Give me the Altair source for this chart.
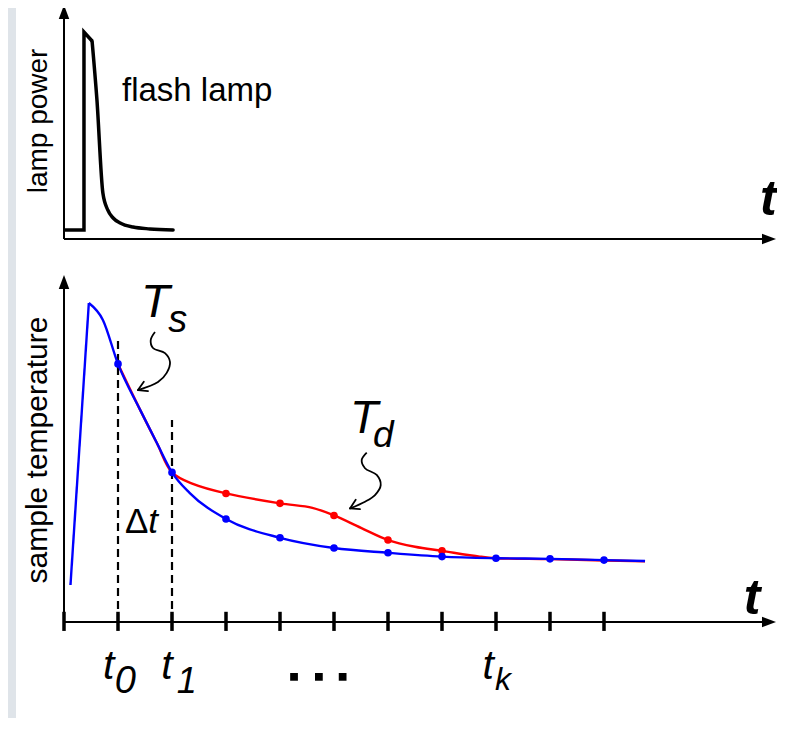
import altair as alt
import pandas as pd

FONT = "Liberation Sans, Arial, Helvetica, sans-serif"

# ---------------- data ----------------
# time u in sampling steps: ticks at u = 0..10, t0 at u=1, t1 at u=2, tk at u=8
tick_u = [0, 1, 2, 3, 4, 5, 6, 7, 8, 9, 10]
label_t_u = [0.72, 1.80, 7.75]
label_sub_u = [0.94, 2.09, 7.98]
label_sub = ["0", "1", "k"]
label_sub_size = [38, 36, 32]
label_sub_T = [-0.223, -0.223, -0.213]

# flash-lamp power (peak = 1)
lamp_step_u = [0.0, 0.37, 0.37, 0.52]
lamp_step_P = [0.044, 0.044, 1.005, 0.961]
lamp_decay_u = [0.52, 0.61, 0.72, 0.81, 0.91, 1.04, 1.28, 1.59, 2.02]
lamp_decay_P = [0.961, 0.675, 0.223, 0.141, 0.102, 0.078, 0.058, 0.049, 0.044]

# sample temperature (peak = 1)
ts_rise_u = [0.12, 0.46]
ts_rise_T = [0.116, 1.0]
ts_u = [0.46, 0.72, 1.0, 1.41, 1.72, 2.0, 2.33, 3.0, 4.0, 5.0, 6.0, 7.0, 8.0, 9.0, 10.0, 10.76]
ts_T = [1.0, 0.947, 0.809, 0.665, 0.561, 0.469, 0.404, 0.323, 0.264, 0.232, 0.217, 0.205, 0.200, 0.198, 0.194, 0.191]
td_u = [1.0, 1.41, 1.72, 2.0, 2.4, 3.0, 4.0, 4.6, 5.0, 5.5, 6.0, 6.5, 7.0, 7.7, 8.0, 9.0, 10.0, 10.76]
td_T = [0.809, 0.665, 0.561, 0.469, 0.432, 0.403, 0.372, 0.358, 0.334, 0.295, 0.257, 0.236, 0.223, 0.205, 0.200, 0.197, 0.193, 0.190]
ts_dot_u = [1, 2, 3, 4, 5, 6, 7, 8, 9, 10]
ts_dot_T = [0.809, 0.469, 0.323, 0.264, 0.232, 0.217, 0.205, 0.200, 0.198, 0.194]
td_dot_u = [3, 4, 5, 6, 7]
td_dot_T = [0.403, 0.372, 0.334, 0.257, 0.223]
dt_line_u = [1, 2]
dt_line_top = [0.884, 0.633]

# annotation arrows (squiggles) in data units
ts_arrow_u = [1.685, 1.606, 1.648, 1.870, 1.963, 1.902, 1.741, 1.370]
ts_arrow_T = [0.909, 0.884, 0.859, 0.843, 0.815, 0.781, 0.752, 0.727]
ts_head_u = [1.556, 1.478]
ts_head_T = [0.724, 0.753]
td_arrow_u = [5.606, 5.513, 5.574, 5.791, 5.865, 5.759, 5.574, 5.296]
td_arrow_T = [0.531, 0.508, 0.482, 0.461, 0.429, 0.398, 0.377, 0.356]
td_head_u = [5.481, 5.402]
td_head_T = [0.354, 0.383]
dots_u = [4.26, 4.72, 5.16]

# ---------------- layout ----------------
W, H = 769, 710
U0, DU = 56.0, 54.0      # chart px of u=0, px per step
TB0, DT = 614.0, 319.0   # bottom panel: chart px of T=0, px per unit
PT0, DP = 231.0, 206.0   # top panel: chart px of P=0, px per unit

xs = alt.Scale(domain=[-U0 / DU, (W - U0) / DU], nice=False, zero=False)
yb = alt.Scale(domain=[-(H - TB0) / DT, TB0 / DT], nice=False, zero=False)
yt = alt.Scale(domain=[-(H - PT0) / DP, PT0 / DP], nice=False, zero=False)


def X(f="u"):
    return alt.X(f"{f}:Q", scale=xs, axis=None)


def Y(ys, f="v"):
    return alt.Y(f"{f}:Q", scale=ys, axis=None)


def line(us, vs, ys, color="black", width=2.0, interp="linear", dash=None, cap="butt"):
    d = pd.DataFrame({"u": us, "v": vs, "i": list(range(len(us)))})
    kw = dict(color=color, strokeWidth=width, interpolate=interp, strokeCap=cap, strokeJoin="miter")
    if dash:
        kw["strokeDash"] = dash
    return alt.Chart(d).mark_line(**kw).encode(x=X(), y=Y(ys), order=alt.Order("i:Q"))


def rules(u1, u2, v1, v2, ys, width=2.0, dash=None, cap="butt"):
    d = pd.DataFrame({"u": u1, "u2": u2, "v": v1, "v2": v2})
    kw = dict(color="black", strokeWidth=width, strokeCap=cap)
    if dash:
        kw["strokeDash"] = dash
    return alt.Chart(d).mark_rule(**kw).encode(x=X(), x2="u2:Q", y=Y(ys), y2="v2:Q")


def dots(us, vs, ys, color):
    d = pd.DataFrame({"u": us, "v": vs})
    return alt.Chart(d).mark_circle(color=color, size=58, opacity=1).encode(x=X(), y=Y(ys))


ARROW = "M0,0L-0.75,2L0.75,2Z"


def arrows(us, vs, angs, ys):
    d = pd.DataFrame({"u": us, "v": vs, "a": angs})
    return alt.Chart(d).mark_point(shape=ARROW, filled=True, color="black", size=196,
                                   opacity=1, strokeWidth=0).encode(
        x=X(), y=Y(ys), angle=alt.Angle("a:Q", scale=None))


def text(u, v, txt, ys, size, italic=False, bold=False, align="left", angle=None):
    d = pd.DataFrame({"u": [u], "v": [v], "txt": [txt]})
    kw = dict(font=FONT, fontSize=size, align=align, baseline="alphabetic", color="black")
    if italic:
        kw["fontStyle"] = "italic"
    if bold:
        kw["fontWeight"] = "bold"
    if angle is not None:
        kw["angle"] = angle
    return alt.Chart(d).mark_text(**kw).encode(x=X(), y=Y(ys), text="txt:N")


# ---------------- background ----------------
bg = alt.Chart(pd.DataFrame({"a": [0]})).mark_rect(color="white").encode(
    x=alt.value(8), x2=alt.value(W), y=alt.value(0), y2=alt.value(H))

# ---------------- top panel ----------------
top = alt.layer(
    rules([0], [0], [0], [1.10], yt, width=2),
    rules([0], [13.0], [0], [0], yt, width=2),
    arrows([0, 13.185], [1.136, 0], [0, 90], yt),
    line(lamp_step_u, lamp_step_P, yt, width=3.5),
    line(lamp_decay_u, lamp_decay_P, yt, width=3.5, interp="monotone", cap="round"),
    text(1.074, 0.670, "flash lamp", yt, 33),
    text(-0.31, 0.573, "lamp power", yt, 28, align="center", angle=270),
    text(12.89, 0.117, "t", yt, 50, italic=True, bold=True),
)

# ---------------- bottom panel ----------------
tick_df = pd.DataFrame({"u": tick_u})
ticks = alt.Chart(tick_df).mark_rule(color="black", strokeWidth=3.5).encode(
    x=X(), y=alt.Y("a:Q", scale=yb, axis=None), y2="b:Q").transform_calculate(a="0.032", b="-0.028")

lab_t = alt.Chart(pd.DataFrame({"u": label_t_u, "v": [-0.179] * 3, "txt": ["t"] * 3})).mark_text(
    font=FONT, fontSize=41, fontStyle="italic", align="left", baseline="alphabetic", color="black").encode(
    x=X(), y=Y(yb), text="txt:N")
lab_sub = alt.Chart(pd.DataFrame({"u": label_sub_u, "v": label_sub_T, "txt": label_sub,
                                  "s": label_sub_size})).mark_text(
    font=FONT, fontStyle="italic", align="left", baseline="alphabetic", color="black").encode(
    x=X(), y=Y(yb), text="txt:N", size=alt.Size("s:Q", scale=None, legend=None))
ell = alt.Chart(pd.DataFrame({"u": dots_u, "v": [-0.172] * 3})).mark_square(
    color="black", size=60, opacity=1).encode(x=X(), y=Y(yb))

bottom = alt.layer(
    rules([0], [0], [0], [1.06], yb, width=2),
    rules([0], [13.0], [0], [0], yb, width=2),
    arrows([0, 13.185], [1.088, 0], [0, 90], yb),
    ticks,
    rules(dt_line_u, dt_line_u, [0, 0], dt_line_top, yb, width=2.2, dash=[8, 5]),
    line(td_u, td_T, yb, color="#ff0000", width=2.4, interp="catmull-rom"),
    line(ts_rise_u, ts_rise_T, yb, color="#0000ff", width=2.4),
    line(ts_u, ts_T, yb, color="#0000ff", width=2.4, interp="monotone"),
    dots(td_dot_u, td_dot_T, yb, "#ff0000"),
    dots(ts_dot_u, ts_dot_T, yb, "#0000ff"),
    line(ts_arrow_u, ts_arrow_T, yb, width=1.8, interp="catmull-rom"),
    line(td_arrow_u, td_arrow_T, yb, width=1.8, interp="catmull-rom"),
    rules([ts_arrow_u[-1]] * 2, ts_head_u, [ts_arrow_T[-1]] * 2, ts_head_T, yb, width=1.8, cap="round"),
    rules([td_arrow_u[-1]] * 2, td_head_u, [td_arrow_T[-1]] * 2, td_head_T, yb, width=1.8, cap="round"),
    text(1.426, 0.956, "T", yb, 47, italic=True),
    text(1.93, 0.909, "s", yb, 38, italic=True),
    text(5.296, 0.592, "T", yb, 46, italic=True),
    text(5.72, 0.549, "d", yb, 37, italic=True),
    text(1.13, 0.279, "Δ", yb, 35),
    text(1.56, 0.279, "t", yb, 35, italic=True),
    text(12.59, 0.025, "t", yb, 50, italic=True, bold=True),
    text(-0.31, 0.539, "sample temperature", yb, 30, align="center", angle=270),
    lab_t,
    lab_sub,
    ell,
)

chart = alt.layer(bg, top, bottom).resolve_scale(y="independent").properties(
    width=W, height=H, padding=0, autosize=alt.AutoSizeParams(type="none"),
    background="#dfe4e9",
).configure_view(stroke=None)

chart.save("out.html", embed_options={"renderer": "svg", "actions": False})
